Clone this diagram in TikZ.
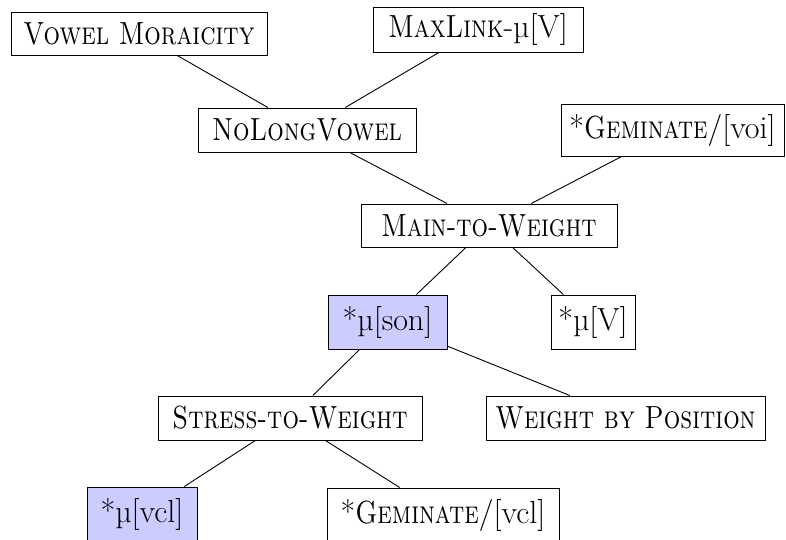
\documentclass[tikz,border=0pt]{standalone}
\usepackage{fontspec}
\usepackage{graphicx}
\newcommand{\mymu}{µ}
\newcommand{\nsc}[1]{\scalebox{0.81}[1]{\textsc{#1}}}
\tikzset{
  cbox/.style={draw=black, line width=1pt, fill=white, inner sep=0pt, align=center,
    font=\fontsize{32}{38}\selectfont},
  hl/.style={fill=blue!20},
  link/.style={line width=0.9pt, draw=black}
}
\begin{document}
\begin{tikzpicture}[x=1pt,y=-1pt]
\useasboundingbox (0,0) rectangle (786,539);
\node[cbox, minimum width=256pt, minimum height=43pt] (vm) at (139,33.5) {\nsc{Vowel Moraicity}};
\node[cbox, minimum width=210pt, minimum height=45pt] (ml) at (478,29.5) {\nsc{MaxLink}-\mymu[V]};
\node[cbox, minimum width=218pt, minimum height=44pt] (nlv) at (307,130) {\nsc{NoLongVowel}};
\node[cbox, minimum width=223pt, minimum height=52pt] (gv) at (672.5,130) {*\nsc{Geminate}/[voi]};
\node[cbox, minimum width=256pt, minimum height=43pt] (mw) at (489,225.5) {\nsc{Main-to-Weight}};
\node[cbox, hl, minimum width=119pt, minimum height=54pt] (ms) at (387.5,322) {*\mymu[son]};
\node[cbox, minimum width=84pt, minimum height=54pt] (mv) at (593,322) {*\mymu[V]};
\node[cbox, minimum width=264pt, minimum height=44pt] (sw) at (290,418) {\nsc{Stress-to-Weight}};
\node[cbox, minimum width=279pt, minimum height=44pt] (wp) at (625.5,418) {\nsc{Weight by Position}};
\node[cbox, hl, minimum width=110pt, minimum height=54pt] (mvcl) at (142,514) {*\mymu[vcl]};
\node[cbox, minimum width=232pt, minimum height=54pt] (gvcl) at (443,515) {*\nsc{Geminate}/[vcl]};
\draw[link] (vm) -- (nlv);
\draw[link] (ml) -- (nlv);
\draw[link] (nlv) -- (mw);
\draw[link] (gv) -- (mw);
\draw[link] (mw) -- (ms);
\draw[link] (mw) -- (mv);
\draw[link] (ms) -- (sw);
\draw[link] (ms) -- (wp);
\draw[link] (sw) -- (mvcl);
\draw[link] (sw) -- (gvcl);
\end{tikzpicture}
\end{document}
